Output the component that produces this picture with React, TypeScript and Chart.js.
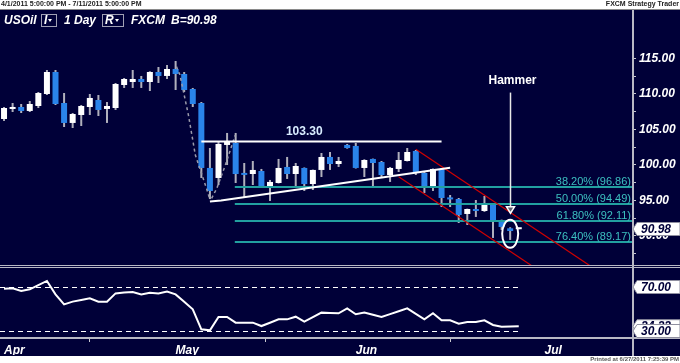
import React, { useEffect, useRef } from 'react';
import { Chart, registerables } from 'chart.js';

Chart.register(...registerables);

const FONT = '"Liberation Sans", Arial, sans-serif';
const NAVY = '#000038';
const BLUE = '#2a84ea';
const WICK = '#b0b0bc';
const FIB = '#22a0a0';
const FIB_TEXT = '#3cc0c0';
const RED = '#d00000';
const LINE_GRAY = '#b8b8c4';

// Daily candles, 4/1/2011 .. 6/28/2011 (index = trading day)
const opens = [106.48, 107.89, 108.17, 107.61, 108.31, 110.0, 113.1, 108.73, 105.92, 107.04, 108.17, 109.15, 107.89, 108.03, 111.27, 111.69, 112.11, 111.69, 113.1, 112.54,
  113.52, 112.82, 110.7, 108.73, 99.58, 98.17, 102.82, 103.1, 98.73, 98.73, 99.15, 96.9, 97.46, 99.72, 98.73, 99.58, 97.32, 99.3, 101.13, 100.14,
  102.82, 102.68, 99.58, 100.85, 100.42, 98.59, 99.44, 100.56, 101.97, 98.87, 96.9, 99.44, 95.3, 95.21, 93.1, 93.8, 93.52, 94.37, 92.25, 91.08, 90.95];
const highs = [108.17, 108.73, 108.59, 109.01, 110.28, 113.38, 113.38, 110.14, 107.32, 108.45, 110.0, 109.86, 108.87, 111.55, 112.25, 113.38, 112.54, 113.2, 113.8, 114.08,
  114.65, 113.1, 110.85, 108.87, 102.39, 103.24, 104.51, 104.51, 100.28, 100.56, 99.44, 97.89, 100.85, 101.13, 100.28, 99.65, 99.35, 101.69, 101.83, 101.13,
  102.96, 103.1, 100.8, 100.9, 100.56, 99.72, 101.83, 102.39, 102.11, 99.0, 99.5, 99.58, 95.77, 95.35, 93.85, 95.07, 95.63, 94.4, 92.3, 91.23, 91.0];
const lows = [106.2, 107.46, 107.32, 107.46, 108.03, 109.86, 108.45, 105.35, 105.21, 105.49, 107.04, 106.9, 105.92, 107.75, 110.85, 110.85, 110.85, 110.42, 111.55, 112.11,
  110.56, 110.28, 108.17, 98.17, 95.2, 97.18, 100.0, 97.46, 95.35, 97.18, 96.8, 94.93, 97.4, 98.03, 96.9, 96.34, 96.48, 98.31, 99.3, 99.72,
  102.3, 99.5, 98.31, 96.9, 98.31, 97.61, 99.01, 100.5, 98.59, 96.06, 96.34, 94.08, 94.08, 91.83, 91.55, 92.68, 93.4, 89.72, 90.85, 89.44, 90.95];
const closes = [108.03, 108.17, 107.61, 108.59, 110.14, 113.1, 108.59, 105.92, 107.18, 108.31, 109.44, 107.75, 108.31, 111.41, 112.11, 112.11, 111.69, 113.1, 112.54, 113.52,
  112.82, 110.56, 108.59, 99.58, 96.34, 102.96, 103.24, 98.73, 98.6, 99.3, 96.9, 97.61, 99.58, 98.73, 99.86, 97.32, 99.3, 101.13, 100.14, 100.56,
  102.39, 99.58, 100.7, 100.28, 98.59, 99.58, 100.7, 101.83, 98.87, 96.9, 99.44, 95.35, 95.15, 92.96, 93.8, 93.52, 94.37, 92.25, 91.27, 90.7, 90.98];

const rsiValues = [68.5, 68.8, 66.4, 67.9, 71.7, 75.5, 63.3, 54.2, 56.7, 58.2, 59.7, 56.7, 56.7, 64.2, 64.9, 65.5, 63.3, 64.8, 64.2, 65.8,
  63.3, 56.5, 49.7, 31.5, 30.6, 42.7, 42.7, 37.6, 37.6, 37.6, 34.5, 37.5, 40.6, 40.6, 43.0, 38.5, 42.6, 46.7, 46.4, 46.1,
  50.6, 45.2, 46.7, 44.7, 42.7, 45.3, 48.0, 50.6, 45.6, 40.6, 46.1, 39.7, 39.7, 36.7, 38.2, 38.2, 39.7, 35.5, 33.9, 34.1, 34.33];

const monthTickIndex = [0, 20, 41, 63];
const monthLabels = ['Apr', 'May', 'Jun', 'Jul'];
const priceTicks = [87.5, 90, 92.5, 95, 97.5, 100, 102.5, 105, 107.5, 110, 112.5, 115];
const rsiLevels = [70, 30];

// Annotations: [trading-day index, price]
const resistanceLevel = 103.3;
const resistanceSpan = [23, 51];
const resistanceLabelIndex = 35;
const supportTrend = [[24.0, 94.86], [25.3, 95.0], [52.0, 99.62]];
const waveDown = [[20.1, 113.85], [20.5, 112.7], [21.5, 107.0], [22.3, 101.4], [23.6, 96.7], [24.0, 95.1]];
const waveUp = [[24.2, 95.3], [24.8, 96.7], [25.8, 100.0], [26.95, 104.2]];
const fibLevels = [96.86, 94.49, 92.11, 89.17];
const fibPercents = ['38.20%', '50.00%', '61.80%', '76.40%'];
const fibStartIndex = 26.9;
const channelUpper = [[48.0, 102.2], [75.0, 80.4]];
const channelLower = [[46.0, 98.35], [75.0, 74.9]];
const hammerIndex = 59;
const hammerLabelPrice = 111.9;
const hammerLineTop = 110.2;
const hammerArrowBase = 94.1;
const hammerArrowTip = 93.2;
const hammerRingPrice = 90.3;

const panelPlugin: any = {
  id: 'panels',
  beforeDraw(chart: any) {
    const { ctx, width, height } = chart;
    ctx.save();
    ctx.fillStyle = '#ffffff';
    ctx.fillRect(0, 0, width, height);
    ctx.fillStyle = NAVY;
    ctx.fillRect(0, 10, width, 346);
    ctx.strokeStyle = '#8a8a8a';
    ctx.lineWidth = 1;
    ctx.beginPath();
    ctx.moveTo(0, 9.5);
    ctx.lineTo(width, 9.5);
    ctx.stroke();
    ctx.fillStyle = '#222';
    ctx.font = `bold 7px ${FONT}`;
    ctx.textBaseline = 'middle';
    ctx.textAlign = 'left';
    ctx.fillText('4/1/2011 5:00:00 PM - 7/11/2011 5:00:00 PM', 1, 4.5);
    ctx.textAlign = 'right';
    ctx.fillText('FXCM Strategy Trader', 679, 4.5);
    ctx.font = `bold 6px ${FONT}`;
    ctx.fillStyle = '#555';
    ctx.fillText('Printed at 6/27/2011 7:25:39 PM', 679, 359.5);
    ctx.restore();
  },
  afterDatasetsDraw(chart: any) {
    const { ctx, chartArea, scales } = chart;
    const xs = scales.x, ys = scales.y, yr = scales.yr;
    const X = (v: number) => xs.getPixelForValue(v);
    const Y = (v: number) => ys.getPixelForValue(v);
    const poly = (pts: number[][], color: string, w: number, dash: number[] = []) => {
      ctx.save();
      ctx.strokeStyle = color;
      ctx.lineWidth = w;
      ctx.setLineDash(dash);
      ctx.beginPath();
      pts.forEach((p, i) => (i ? ctx.lineTo(X(p[0]), Y(p[1])) : ctx.moveTo(X(p[0]), Y(p[1]))));
      ctx.stroke();
      ctx.restore();
    };
    ctx.save();
    ctx.beginPath();
    ctx.rect(chartArea.left, ys.top, chartArea.right - chartArea.left, ys.bottom - ys.top - 1);
    ctx.clip();
    // Fibonacci levels
    fibLevels.forEach((lv, k) => {
      const y = Math.round(Y(lv));
      ctx.strokeStyle = FIB;
      ctx.lineWidth = 2;
      ctx.beginPath();
      ctx.moveTo(X(fibStartIndex), y);
      ctx.lineTo(chartArea.right, y);
      ctx.stroke();
      ctx.fillStyle = FIB_TEXT;
      ctx.font = `11px ${FONT}`;
      ctx.textAlign = 'right';
      ctx.textBaseline = 'alphabetic';
      ctx.fillText(`${fibPercents[k]} (${lv.toFixed(2)})`, chartArea.right - 1, y - 2.5);
    });
    // channel
    poly(channelUpper, RED, 1.2);
    poly(channelLower, RED, 1.2);
    // waves
    poly(waveDown, '#9a9aaa', 1.5, [3, 3]);
    poly(waveUp, '#9a9aaa', 1.5, [3, 3]);
    // resistance
    poly([[resistanceSpan[0], resistanceLevel], [resistanceSpan[1], resistanceLevel]], '#ffffff', 2);
    ctx.fillStyle = '#d8ecff';
    ctx.font = `bold 12px ${FONT}`;
    ctx.textAlign = 'center';
    ctx.textBaseline = 'middle';
    ctx.fillText(resistanceLevel.toFixed(2), X(resistanceLabelIndex), Y(resistanceLevel) - 10);
    // support trend
    poly(supportTrend, '#ffffff', 2);
    // hammer
    const hx = Math.round(X(hammerIndex)) + 0.5;
    ctx.fillStyle = '#ffffff';
    ctx.font = `bold 12px ${FONT}`;
    ctx.textAlign = 'center';
    ctx.textBaseline = 'middle';
    ctx.fillText('Hammer', hx + 2, Y(hammerLabelPrice));
    ctx.strokeStyle = '#e8e8e8';
    ctx.lineWidth = 1.5;
    ctx.beginPath();
    ctx.moveTo(hx, Y(hammerLineTop));
    ctx.lineTo(hx, Y(hammerArrowBase));
    ctx.stroke();
    ctx.beginPath();
    ctx.moveTo(hx - 4, Y(hammerArrowBase));
    ctx.lineTo(hx + 4, Y(hammerArrowBase));
    ctx.lineTo(hx, Y(hammerArrowTip));
    ctx.closePath();
    ctx.fillStyle = '#606070';
    ctx.fill();
    ctx.strokeStyle = '#ffffff';
    ctx.lineWidth = 1.5;
    ctx.stroke();
    ctx.beginPath();
    ctx.ellipse(X(hammerIndex), Y(hammerRingPrice), 8, 14, 0, 0, Math.PI * 2);
    ctx.lineWidth = 2;
    ctx.stroke();
    ctx.restore();
    // RSI levels
    ctx.save();
    ctx.strokeStyle = '#ffffff';
    ctx.lineWidth = 1;
    ctx.setLineDash([5, 4]);
    rsiLevels.forEach((lv) => {
      const y = Math.round(yr.getPixelForValue(lv)) + 0.5;
      ctx.beginPath();
      ctx.moveTo(chartArea.left, y);
      ctx.lineTo(X(rsiValues.length - 1), y);
      ctx.stroke();
    });
    ctx.restore();
  },
  afterDraw(chart: any) {
    const { ctx, chartArea, scales, width } = chart;
    const xs = scales.x, ys = scales.y, yr = scales.yr;
    ctx.save();
    // panel separator
    ctx.strokeStyle = LINE_GRAY;
    ctx.lineWidth = 1;
    [ys.bottom - 0.5, ys.bottom + 1.5].forEach((y: number) => {
      ctx.beginPath();
      ctx.moveTo(0, y);
      ctx.lineTo(width, y);
      ctx.stroke();
    });
    // time axis line
    ctx.lineWidth = 2;
    ctx.beginPath();
    ctx.moveTo(0, xs.top + 1);
    ctx.lineTo(width, xs.top + 1);
    ctx.stroke();
    // right axis line
    ctx.beginPath();
    ctx.moveTo(chartArea.right + 1, 10);
    ctx.lineTo(chartArea.right + 1, 356);
    ctx.stroke();

    // header
    ctx.fillStyle = '#ffffff';
    ctx.font = `italic bold 12px ${FONT}`;
    ctx.textAlign = 'left';
    ctx.textBaseline = 'middle';
    ctx.fillText('USOil', 4, 20.5);
    ctx.fillText('1 Day', 64, 20.5);
    ctx.fillText('FXCM', 131, 20.5);
    ctx.fillText(`B=${closes[closes.length - 1].toFixed(2)}`, 171, 20.5);
    const box = (x: number, w: number, t: string) => {
      ctx.strokeStyle = '#a0a0b4';
      ctx.lineWidth = 1;
      ctx.strokeRect(x + 0.5, 14.5, w, 12);
      ctx.fillStyle = '#ffffff';
      ctx.fillText(t, x + 3, 20.5);
      const tx = x + w - 6;
      ctx.beginPath();
      ctx.moveTo(tx - 2, 19);
      ctx.lineTo(tx + 2, 19);
      ctx.lineTo(tx, 22);
      ctx.closePath();
      ctx.fill();
    };
    box(41, 15, 'I');
    box(102, 21, 'R');

    // value tags
    const tag = (y: number, text: string) => {
      const x0 = chartArea.right + 1;
      ctx.beginPath();
      ctx.moveTo(x0, y);
      ctx.lineTo(x0 + 4, y - 6.5);
      ctx.lineTo(width, y - 6.5);
      ctx.lineTo(width, y + 6.5);
      ctx.lineTo(x0 + 4, y + 6.5);
      ctx.closePath();
      ctx.fillStyle = '#ffffff';
      ctx.fill();
      ctx.strokeStyle = '#9090a0';
      ctx.lineWidth = 1;
      ctx.stroke();
      ctx.fillStyle = NAVY;
      ctx.font = `italic bold 12px ${FONT}`;
      ctx.textAlign = 'left';
      ctx.textBaseline = 'middle';
      ctx.fillText(text, x0 + 8, y + 0.5);
    };
    tag(ys.getPixelForValue(closes[closes.length - 1]), closes[closes.length - 1].toFixed(2));
    tag(yr.getPixelForValue(rsiValues[rsiValues.length - 1]), rsiValues[rsiValues.length - 1].toFixed(2));
    rsiLevels.forEach((lv) => tag(yr.getPixelForValue(lv), lv.toFixed(2)));
    ctx.restore();
  },
};

export default function App() {
  const ref = useRef<HTMLCanvasElement>(null);
  useEffect(() => {
    document.body.style.margin = '0';
    const canvas = ref.current as HTMLCanvasElement;
    const idx = closes.map((_, i) => i);
    const tickFont = { family: FONT, size: 12, weight: 'bold', style: 'italic' } as any;
    const chart = new Chart(canvas, {
      type: 'bar',
      data: {
        datasets: [
          {
            type: 'line',
            label: 'RSI',
            data: rsiValues.map((v, i) => ({ x: i, y: v })),
            xAxisID: 'x',
            yAxisID: 'yr',
            borderColor: '#ffffff',
            borderWidth: 2,
            pointRadius: 0,
            tension: 0,
            order: 0,
          } as any,
          {
            type: 'bar',
            label: 'Body',
            data: idx.map((i) => ({ x: i, y: [opens[i], closes[i]] })),
            backgroundColor: idx.map((i) => (closes[i] >= opens[i] ? '#ffffff' : BLUE)),
            xAxisID: 'x',
            yAxisID: 'y',
            grouped: false,
            maxBarThickness: 6,
            minBarLength: 2,
            borderWidth: 0,
            order: 1,
          } as any,
          {
            type: 'bar',
            label: 'Wick',
            data: idx.map((i) => ({ x: i, y: [lows[i], highs[i]] })),
            backgroundColor: WICK,
            xAxisID: 'x',
            yAxisID: 'y',
            grouped: false,
            maxBarThickness: 2,
            borderWidth: 0,
            order: 2,
          } as any,
        ],
      },
      options: {
        responsive: false,
        animation: false,
        events: [],
        layout: { padding: { top: 11, bottom: 8, left: 0, right: 0 } },
        plugins: { legend: { display: false }, tooltip: { enabled: false } },
        scales: {
          x: {
            type: 'linear',
            position: 'bottom',
            min: -0.47,
            max: 73.2,
            offset: false,
            afterBuildTicks: (s: any) => {
              s.ticks = monthTickIndex.map((v) => ({ value: v }));
            },
            afterFit: (s: any) => {
              s.height = 18;
            },
            ticks: {
              callback: (v: any) => {
                const k = monthTickIndex.indexOf(Number(v));
                return k >= 0 ? monthLabels[k] : '';
              },
              align: 'start',
              color: '#ffffff',
              font: tickFont,
              padding: 1,
              autoSkip: false,
              maxRotation: 0,
            },
            grid: { drawOnChartArea: false, drawTicks: true, tickLength: 5, color: '#c8c8d0' },
            border: { display: false },
          },
          y: {
            type: 'linear',
            position: 'right',
            stack: 'panels',
            stackWeight: 255,
            min: 85.77,
            max: 121.69,
            afterBuildTicks: (s: any) => {
              s.ticks = priceTicks.map((v) => ({ value: v }));
            },
            afterFit: (s: any) => {
              s.width = 48;
            },
            ticks: {
              callback: (v: any) => (Number(v) % 5 === 0 ? Number(v).toFixed(2) : ''),
              color: '#ffffff',
              font: tickFont,
              padding: 3,
              autoSkip: false,
            },
            grid: { drawOnChartArea: false, drawTicks: true, tickLength: 4, color: '#c8c8d0' },
            border: { display: false },
          },
          yr: {
            type: 'linear',
            position: 'right',
            stack: 'panels',
            stackWeight: 71,
            min: 24.55,
            max: 89.09,
            afterFit: (s: any) => {
              s.width = 48;
            },
            ticks: { display: false },
            grid: { display: false },
            border: { display: false },
          },
        } as any,
      },
      plugins: [panelPlugin],
    } as any);
    return () => chart.destroy();
  }, []);
  return (
    <div style={{ position: 'fixed', left: 0, top: 0, width: 680, height: 363 }}>
      <canvas ref={ref} width={680} height={363} style={{ display: 'block', width: 680, height: 363 }} />
    </div>
  );
}
